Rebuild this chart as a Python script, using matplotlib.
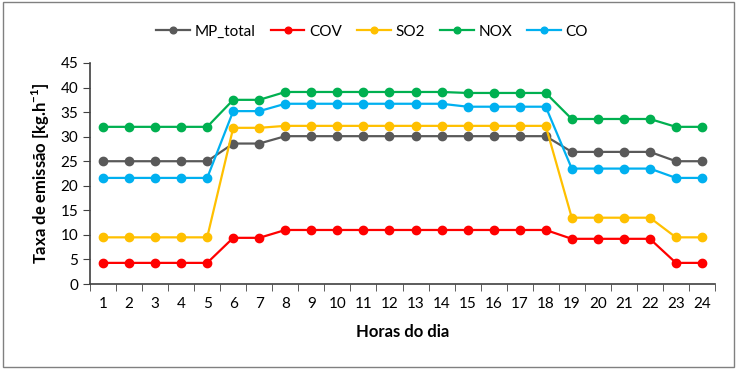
import matplotlib.pyplot as plt
from matplotlib.patches import Rectangle

plt.rcParams['font.family'] = ['Lato', 'DejaVu Sans']
plt.rcParams['mathtext.fontset'] = 'custom'
plt.rcParams['mathtext.rm'] = 'Lato'
plt.rcParams['mathtext.bf'] = 'Lato:bold'

horas = list(range(1, 25))
mp_total = [25.0] * 5 + [28.6] * 2 + [30.1] * 11 + [26.9] * 4 + [25.0] * 2
cov = [4.3] * 5 + [9.4] * 2 + [11.0] * 11 + [9.2] * 4 + [4.3] * 2
so2 = [9.5] * 5 + [31.8] * 2 + [32.2] * 11 + [13.5] * 4 + [9.5] * 2
nox = [32.0] * 5 + [37.5] * 2 + [39.1] * 7 + [38.9] * 4 + [33.6] * 4 + [32.0] * 2
co = [21.6] * 5 + [35.2] * 2 + [36.7] * 7 + [36.1] * 4 + [23.5] * 4 + [21.6] * 2

series = [
    ("MP_total", mp_total, "#595959"),
    ("COV", cov, "#FF0000"),
    ("SO2", so2, "#FFC000"),
    ("NOX", nox, "#00B050"),
    ("CO", co, "#00B0F0"),
]

fig = plt.figure(figsize=(7.37, 3.69), dpi=100)
ax = fig.add_axes([90 / 737, 1 - 284 / 369, (715 - 90) / 737, (284 - 63) / 369])

for name, vals, color in series:
    ax.plot(horas, vals, color=color, lw=1.6, marker="o", ms=6, label=name)

ax.set_xlim(0.5, 24.5)
ax.set_ylim(0, 45)
ax.set_yticks(range(0, 46, 5))
ax.set_xticks(horas)
ax.set_xticks([h + 0.5 for h in range(0, 25)], minor=True)
ax.tick_params(axis="x", which="major", length=0, labelsize=11, pad=9)
ax.tick_params(axis="x", which="minor", length=5, color="#404040")
ax.tick_params(axis="y", length=5, labelsize=11, color="#404040")
for s in ["top", "right"]:
    ax.spines[s].set_visible(False)
for s in ["left", "bottom"]:
    ax.spines[s].set_color("#404040")
    ax.spines[s].set_linewidth(1.2)

ax.set_xlabel("Horas do dia", fontsize=12, fontweight="bold", labelpad=10)
ax.set_ylabel("Taxa de emissão [kg.h$^{\\mathbf{-1}}$]", fontsize=12, fontweight="bold", labelpad=6)

fig.legend(loc="upper center", bbox_to_anchor=(0.505, 0.97), ncol=5, frameon=False,
           fontsize=11, handlelength=2.2, columnspacing=1.0, handletextpad=0.3,
           markerscale=0.8)

fig.patches.append(Rectangle((0.004, 0.006), 0.992, 0.988, transform=fig.transFigure,
                             fill=False, edgecolor="#808080", lw=1))

fig.savefig("out.png", dpi=100)
